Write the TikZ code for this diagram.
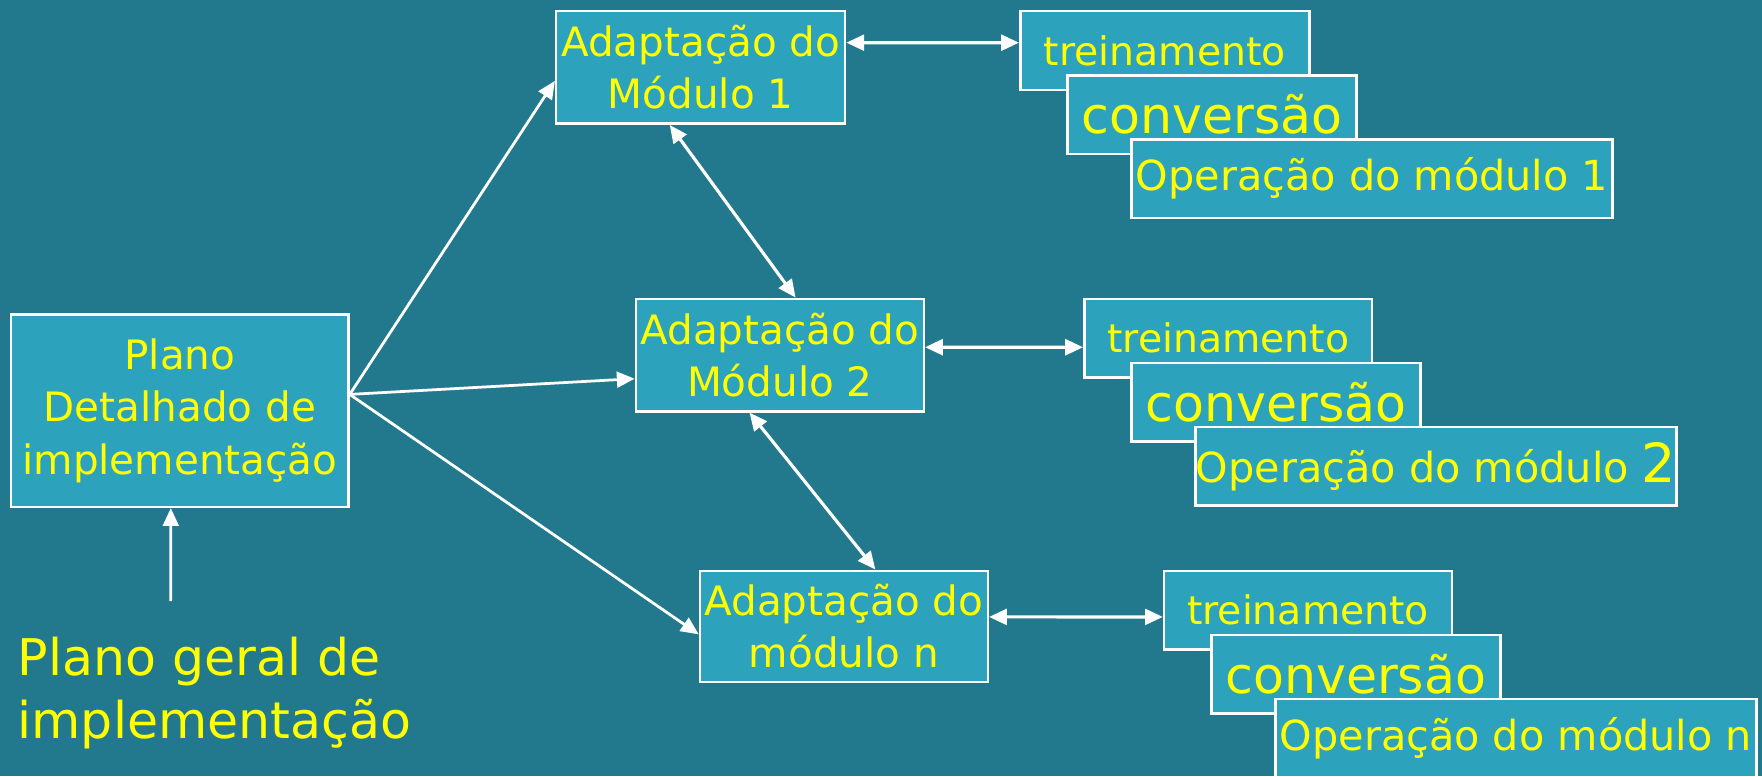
\documentclass[tikz,border=0pt]{standalone}
\usepackage{fontspec}
\setmainfont{DejaVu Sans}
\usetikzlibrary{arrows.meta}
\definecolor{bgcol}{HTML}{22788C}
\definecolor{boxcol}{HTML}{2CA2BD}
\definecolor{txtcol}{HTML}{FFFF00}
\tikzset{
  box/.style={draw=white, fill=boxcol, line width=0.65pt, inner sep=0pt, text=txtcol, align=center},
  stdfont/.style={font=\fontsize{10.24pt}{13.2pt}\selectfont},
  trfont/.style={font=\fontsize{9.96pt}{12pt}\selectfont},
  cvfont/.style={font=\fontsize{12.8pt}{15pt}\selectfont},
  opfont/.style={font=\fontsize{10.47pt}{12.5pt}\selectfont},
  conn/.style={draw=white, line width=0.7pt, -{Triangle[length=4.5pt,width=4pt]}},
  dconn/.style={draw=white, line width=0.8pt, {Triangle[length=4.5pt,width=4pt]}-{Triangle[length=4.5pt,width=4pt]}}
}
\begin{document}
\begin{tikzpicture}[x=0.01cm, y=-0.01cm]
\fill[bgcol] (0,0) rectangle (1568,691);
\useasboundingbox (0,0) rectangle (1568,691);
% left
\node[box, stdfont, minimum width=3cm, minimum height=1.71cm] (plano) at (160,365.5) {Plano\\Detalhado de\\implementação};
\coordinate (pg) at (152,535);
\node[text=txtcol, align=left, anchor=base west, inner sep=0pt, font=\fontsize{12.8pt}{16pt}\selectfont] (geral) at (15,657) {Plano geral de\\implementação};
% adaptation boxes
\node[box, stdfont, minimum width=2.57cm, minimum height=1cm] (m1) at (623.5,60) {Adaptação do\\Módulo 1};
\node[box, stdfont, minimum width=2.56cm, minimum height=1cm] (m2) at (694,316) {Adaptação do\\Módulo 2};
\node[box, stdfont, minimum width=2.56cm, minimum height=0.99cm] (mn) at (751,557.5) {Adaptação do\\módulo n};
% stacks 1
\node[box, trfont, minimum width=2.57cm, minimum height=0.7cm] (t1) at (1036.5,45) {treinamento};
\node[box, cvfont, minimum width=2.57cm, minimum height=0.7cm] (c1) at (1078.5,102) {conversão};
\node[box, opfont, minimum width=4.28cm, minimum height=0.7cm] (o1) at (1221,159) {Operação do módulo 1};
% stacks 2
\node[box, trfont, minimum width=2.56cm, minimum height=0.7cm] (t2) at (1093,301) {treinamento};
\node[box, cvfont, minimum width=2.57cm, minimum height=0.7cm] (c2) at (1135.5,358) {conversão};
\node[box, opfont, minimum width=4.28cm, minimum height=0.7cm] (o2) at (1278,415) {Operação do módulo {\fontsize{13.66pt}{14pt}\selectfont 2}};
% stacks n
\node[box, trfont, minimum width=2.56cm, minimum height=0.7cm] (tn) at (1164,543) {treinamento};
\node[box, cvfont, minimum width=2.57cm, minimum height=0.7cm] (cn) at (1206.5,600) {conversão};
\node[box, opfont, minimum width=4.28cm, minimum height=0.7cm] (on) at (1349,657) {Operação do módulo n};
% connectors
\draw[conn] (pg) -- ([xshift=-0.08cm]plano.south);
\draw[conn] ([yshift=0.145cm]plano.east) -- ([yshift=-0.12cm]m1.west);
\draw[conn] ([yshift=0.145cm]plano.east) -- ([yshift=-0.21cm]m2.west);
\draw[conn] ([yshift=0.145cm]plano.east) -- ([yshift=-0.07cm]mn.west);
\draw[dconn] ([yshift=0.22cm]m1.east) -- ([yshift=0.07cm]t1.west);
\draw[dconn] ([yshift=0.07cm]m2.east) -- ([yshift=-0.08cm]t2.west);
\draw[dconn] ([yshift=0.085cm]mn.east) -- ([yshift=-0.06cm]tn.west);
\draw[dconn] ([xshift=-0.275cm]m1.south) -- ([xshift=0.14cm]m2.north);
\draw[dconn] ([xshift=-0.27cm]m2.south) -- ([xshift=0.28cm]mn.north);
\end{tikzpicture}
\end{document}
